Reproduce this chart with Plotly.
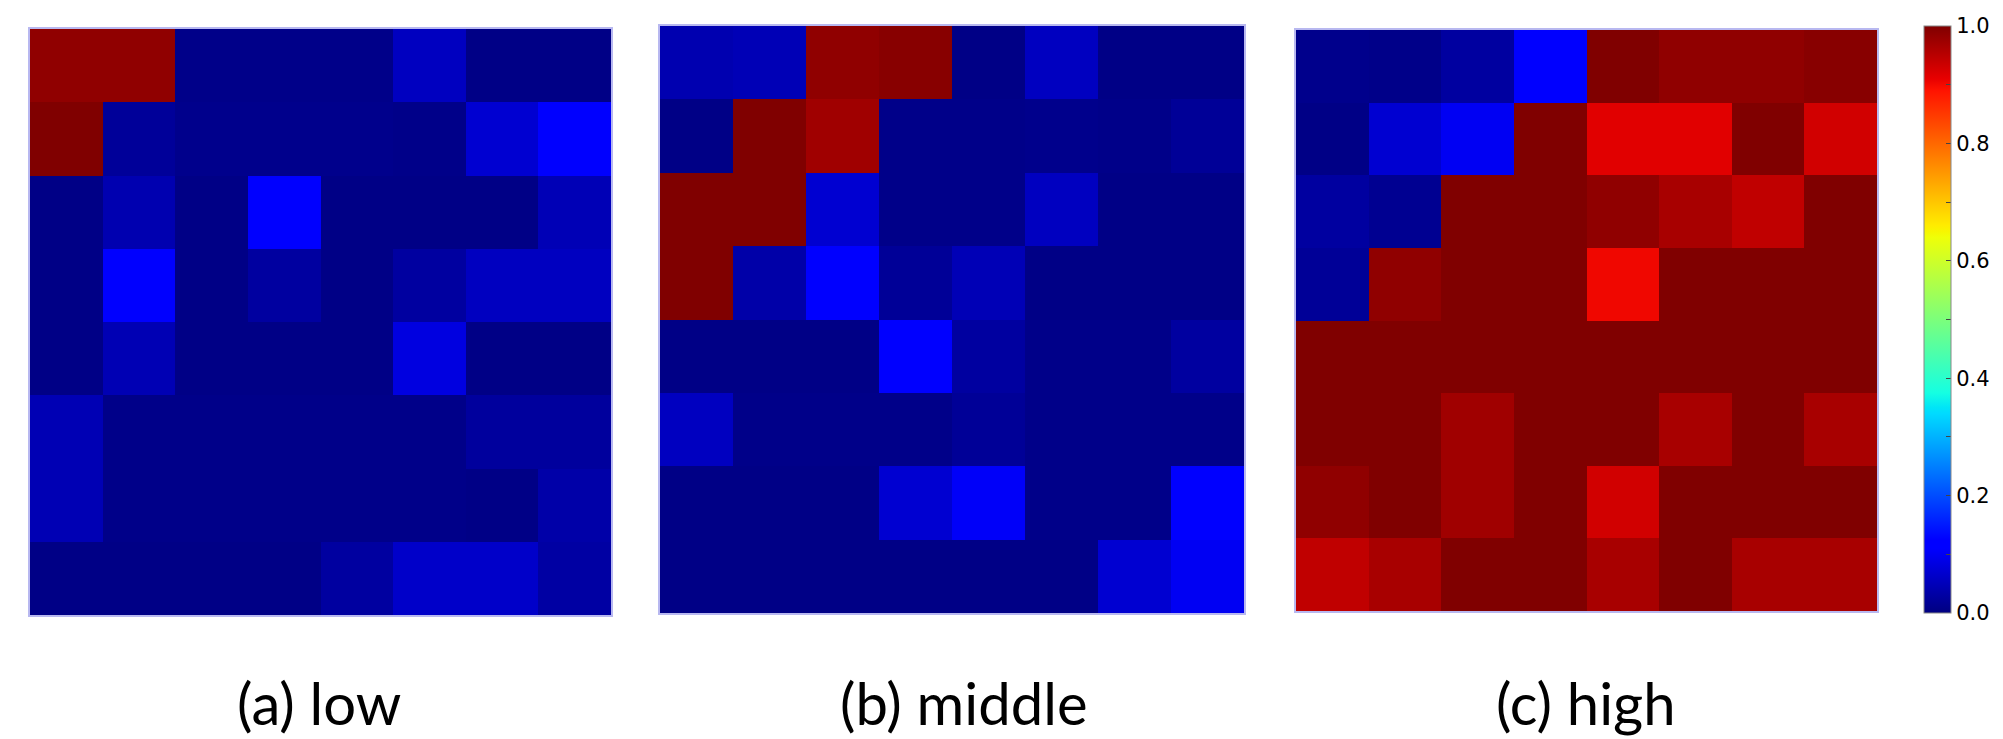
import numpy as np
import plotly.graph_objects as go

# ---- data (8x8 grids, row 0 = top) ----
low = [
    [0.986, 0.986, 0.008, 0.008, 0.008, 0.055, 0.005, 0.005],
    [1.000, 0.022, 0.010, 0.010, 0.010, 0.008, 0.070, 0.112],
    [0.005, 0.042, 0.005, 0.110, 0.005, 0.005, 0.005, 0.047],
    [0.005, 0.112, 0.005, 0.028, 0.005, 0.028, 0.055, 0.055],
    [0.005, 0.045, 0.005, 0.005, 0.005, 0.083, 0.005, 0.005],
    [0.045, 0.008, 0.008, 0.008, 0.008, 0.008, 0.025, 0.025],
    [0.045, 0.008, 0.008, 0.008, 0.008, 0.008, 0.005, 0.035],
    [0.005, 0.005, 0.005, 0.005, 0.028, 0.063, 0.063, 0.030],
]
middle = [
    [0.042, 0.047, 0.986, 0.993, 0.005, 0.055, 0.005, 0.005],
    [0.005, 1.000, 0.972, 0.008, 0.008, 0.010, 0.008, 0.020],
    [1.000, 1.000, 0.070, 0.008, 0.008, 0.055, 0.005, 0.005],
    [1.000, 0.035, 0.112, 0.020, 0.047, 0.005, 0.005, 0.005],
    [0.005, 0.005, 0.005, 0.110, 0.028, 0.008, 0.008, 0.028],
    [0.055, 0.008, 0.008, 0.008, 0.020, 0.008, 0.008, 0.008],
    [0.005, 0.005, 0.005, 0.070, 0.105, 0.008, 0.008, 0.112],
    [0.005, 0.005, 0.005, 0.005, 0.005, 0.005, 0.070, 0.100],
]
high = [
    [0.010, 0.008, 0.028, 0.118, 1.000, 0.986, 0.986, 0.993],
    [0.005, 0.070, 0.100, 1.000, 0.916, 0.916, 1.000, 0.930],
    [0.028, 0.015, 1.000, 1.000, 0.986, 0.965, 0.945, 1.000],
    [0.020, 0.986, 1.000, 1.000, 0.903, 1.000, 1.000, 1.000],
    [1.000, 1.000, 1.000, 1.000, 1.000, 1.000, 1.000, 1.000],
    [1.000, 1.000, 0.972, 1.000, 1.000, 0.965, 1.000, 0.965],
    [0.986, 1.000, 0.972, 1.000, 0.930, 1.000, 1.000, 1.000],
    [0.945, 0.965, 1.000, 1.000, 0.965, 1.000, 0.965, 0.965],
]
panels = [low, middle, high]
captions = ["(a) low", "(b) middle", "(c) high"]
tick_vals = [0.0, 0.1, 0.2, 0.3, 0.4, 0.5, 0.6, 0.7, 0.8, 0.9, 1.0]
tick_text = ["0.0", "", "0.2", "", "0.4", "", "0.6", "", "0.8", "", "1.0"]

# ---- matplotlib-style jet colorscale ----
stops = [0, 0.11, 0.125, 0.34, 0.35, 0.375, 0.64, 0.65, 0.66, 0.89, 0.91, 1.0]
def ch(p, xs, ys):
    return float(np.interp(p, xs, ys))
jet = []
for p in stops:
    r = ch(p, [0, 0.35, 0.66, 0.89, 1], [0, 0, 1, 1, 0.5])
    g = ch(p, [0, 0.125, 0.375, 0.64, 0.91, 1], [0, 0, 1, 1, 0, 0])
    b = ch(p, [0, 0.11, 0.34, 0.65, 1], [0.5, 1, 1, 0, 0])
    jet.append([p, f"rgb({round(r*255)},{round(g*255)},{round(b*255)})"])

W, H = 2003, 739
# panel boxes in pixels: (x0, x1, ytop, ybottom)
boxes = [(22, 603, 21, 607), (652, 1236, 18, 605), (1288, 1869, 22, 603)]
cap_x = [311, 956, 1578]

fig = go.Figure()
layout = dict(
    width=W, height=H, margin=dict(l=0, r=0, t=0, b=0),
    paper_bgcolor="white", plot_bgcolor="white", showlegend=False,
    coloraxis=dict(
        colorscale=jet, cmin=0, cmax=1,
        colorbar=dict(
            x=1916 / W, xanchor="left", xpad=0, ypad=0,
            y=1 - 18 / H, yanchor="top",
            lenmode="pixels", len=587, thicknessmode="pixels", thickness=27,
            outlinecolor="#888888", outlinewidth=1,
            tickmode="array", tickvals=tick_vals, ticktext=tick_text,
            ticks="inside", ticklen=5, tickcolor="#444444", tickwidth=1,
            tickfont=dict(family="DejaVu Sans", size=21, color="black"),
        ),
    ),
)
annotations = []
for i, (z, cap, (x0, x1, yt, yb), cx) in enumerate(zip(panels, captions, boxes, cap_x)):
    k = "" if i == 0 else str(i + 1)
    fig.add_trace(go.Heatmap(z=z, coloraxis="coloraxis", xaxis="x" + k, yaxis="y" + k,
                             hoverinfo="z"))
    ax = dict(domain=[x0 / W, x1 / W], showticklabels=False, ticks="", showgrid=False,
              zeroline=False, showline=True, mirror=True, linecolor="#b8b8f0", linewidth=1.5)
    layout["xaxis" + k] = dict(ax, anchor="y" + k, range=[-0.5, 7.5])
    layout["yaxis" + k] = dict(ax, domain=[1 - yb / H, 1 - yt / H], anchor="x" + k,
                               range=[7.5, -0.5])
    annotations.append(dict(text=cap, x=cx / W, y=1 - 694 / H, xref="paper", yref="paper",
                            showarrow=False, xanchor="center", yanchor="middle",
                            font=dict(family="Lato", size=58, color="black")))
layout["annotations"] = annotations
fig.update_layout(**layout)
fig.write_html("out.html")
